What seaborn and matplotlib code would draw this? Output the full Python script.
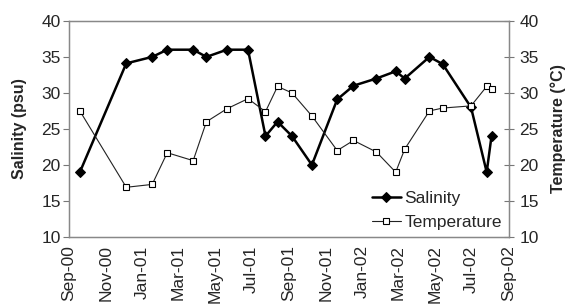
import pandas as pd
import matplotlib
matplotlib.use("Agg")
import matplotlib.pyplot as plt
import matplotlib.dates as mdates
import seaborn as sns

sns.set_style("white")
plt.rcParams['font.family'] = ['Liberation Sans', 'DejaVu Sans']

# sampling dates
dates = ["2000-09-19", "2000-12-05", "2001-01-17", "2001-02-11", "2001-03-26",
         "2001-04-17", "2001-05-21", "2001-06-25", "2001-07-24", "2001-08-13",
         "2001-09-06", "2001-10-09", "2001-11-20", "2001-12-17", "2002-01-24",
         "2002-02-25", "2002-03-12", "2002-04-22", "2002-05-14", "2002-06-30",
         "2002-07-26", "2002-08-03"]
salinity = [19, 34.1, 35, 36, 36, 35, 36, 36, 24, 26, 24, 20,
            29.1, 31, 32, 33, 32, 35, 34, 28, 19, 24]
temperature = [27.5, 16.9, 17.3, 21.7, 20.6, 26, 27.8, 29.2, 27.4, 30.9, 30, 26.8,
               22, 23.4, 21.8, 19, 22.2, 27.5, 27.9, 28.2, 30.9, 30.5]

df = pd.DataFrame({"Date": pd.to_datetime(dates),
                   "Salinity": salinity,
                   "Temperature": temperature})

fig = plt.figure(figsize=(5.67, 3.07), dpi=100)
ax = fig.add_axes([0.1217, 0.228, 0.776, 0.704])

sns.lineplot(x="Date", y="Salinity", data=df, ax=ax, sort=False,
             color="black", linewidth=1.8, marker="D", markersize=5.5,
             markeredgecolor="black", label="Salinity")
sns.lineplot(x="Date", y="Temperature", data=df, ax=ax, sort=False,
             color="#222222", linewidth=0.8, marker="s", markersize=5,
             markerfacecolor="white", markeredgecolor="black",
             markeredgewidth=0.8, label="Temperature")

fs = 12.5
ax.set_xlim(pd.Timestamp("2000-09-01"), pd.Timestamp("2002-09-01"))
ax.set_ylim(10, 40)
ax.set_yticks(range(10, 41, 5))
ax.xaxis.set_major_locator(mdates.MonthLocator(bymonth=[1, 3, 5, 7, 9, 11]))
ax.xaxis.set_major_formatter(mdates.DateFormatter("%b-%y"))
ax.tick_params(axis="x", rotation=90, labelsize=fs, length=4,
               color="#777777", direction="out", pad=2)
ax.tick_params(axis="y", labelsize=fs, length=4, color="#777777",
               direction="out", pad=2)
ax.set_xlabel("")
ax.set_ylabel("Salinity (psu)", fontsize=11.5, fontweight="bold", labelpad=10)

for s in ["left", "bottom", "top", "right"]:
    ax.spines[s].set_color("#888888")
    ax.spines[s].set_linewidth(1)

ax2 = ax.twinx()
ax2.set_ylim(10, 40)
ax2.set_yticks(range(10, 41, 5))
ax2.tick_params(axis="y", labelsize=fs, length=7, color="#777777",
                direction="inout", pad=4)
ax2.set_ylabel("Temperature (°C)", fontsize=11.5, fontweight="bold", labelpad=8)
for s in ["left", "bottom", "top", "right"]:
    ax2.spines[s].set_color("#888888")

ax.legend(loc="lower right", frameon=False, fontsize=fs,
          handlelength=1.7, handletextpad=0.2, borderaxespad=0.0,
          labelspacing=0.5, bbox_to_anchor=(1.0, 0.0))

fig.savefig("out.png", dpi=100)
